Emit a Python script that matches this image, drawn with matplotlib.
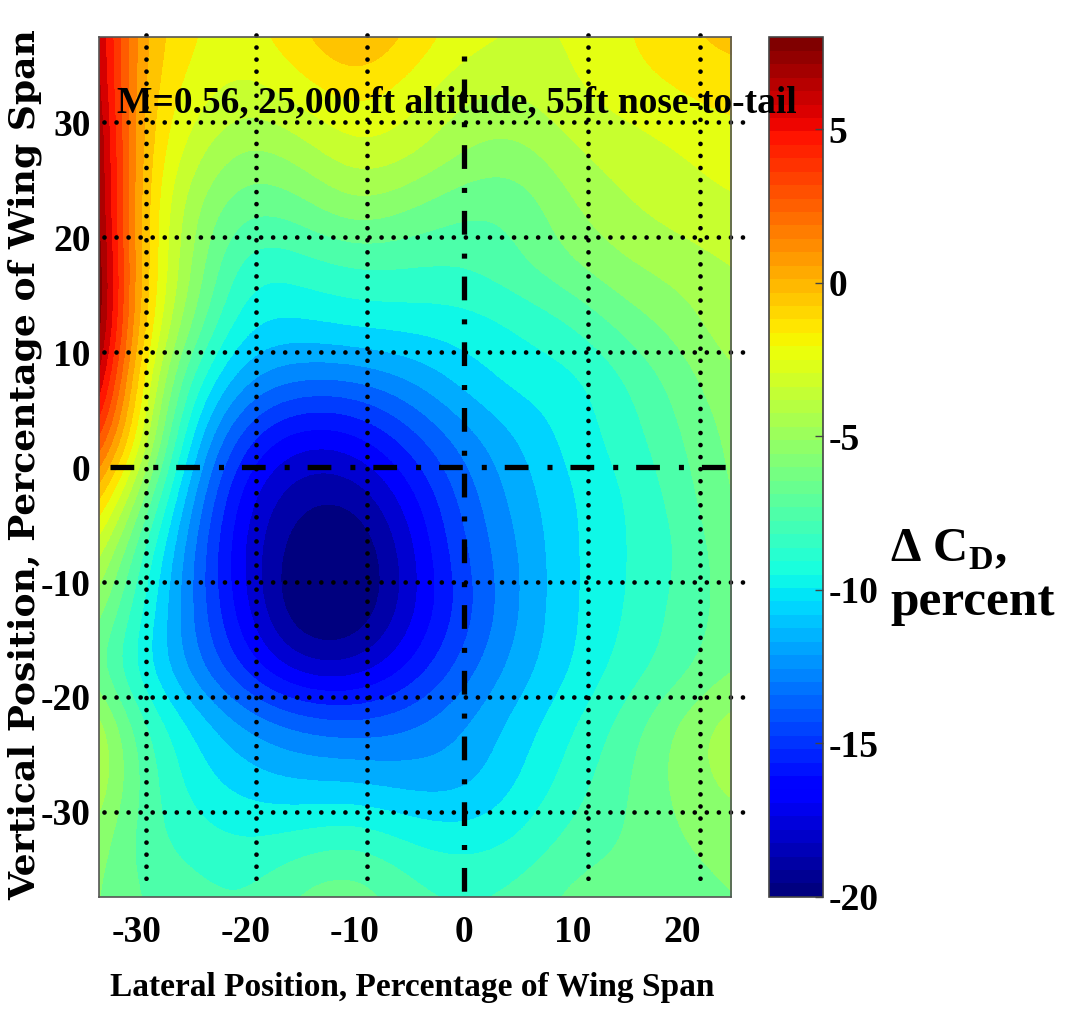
import numpy as np
import matplotlib
matplotlib.use("Agg")
import matplotlib.pyplot as plt
from matplotlib.colors import BoundaryNorm, Normalize
from matplotlib.cm import ScalarMappable

plt.rcParams['font.family'] = ['Liberation Serif', 'DejaVu Serif']
plt.rcParams['font.weight'] = 'bold'
plt.rcParams['axes.unicode_minus'] = False
plt.rcParams['mathtext.fontset'] = 'custom'
plt.rcParams['mathtext.bf'] = 'Liberation Serif:bold'
plt.rcParams['mathtext.rm'] = 'Liberation Serif:bold'

# === Stuetzstellen (Prozent Spannweite) ===
lateral = [-35, -30, -25, -20, -15, -10, -5, 0, 5, 10, 15, 20, 25]
vertical = [37.5, 32.5, 27.5, 22.5, 17.5, 12.5, 7.5, 2.5,
            -2.5, -7.5, -12.5, -17.5, -22.5, -27.5, -32.5, -37.5]

# === Delta C_D in Prozent, Zeile = vertikale Position (oben -> unten) ===
delta_cd = [
    [9.0, 0.0, -2.0, -2.5, -1.0, 0.5, -1.0, -2.5, -3.0, -3.0, -2.0, -1.0, -0.5],
    [10.0, -0.5, -2.5, -3.5, -2.5, -1.5, -2.5, -4.0, -4.0, -3.0, -2.5, -2.0, -1.5],
    [11.0, -0.5, -3.5, -5.5, -4.5, -3.0, -3.5, -5.0, -5.5, -4.0, -3.5, -3.0, -2.5],
    [11.0, -0.5, -5.0, -7.0, -6.5, -5.0, -6.0, -7.0, -7.0, -5.0, -4.0, -3.5, -3.0],
    [12.0, -0.5, -5.0, -9.0, -8.5, -8.0, -8.0, -8.0, -7.0, -6.0, -5.0, -4.5, -4.0],
    [12.0, -0.5, -6.0, -10.0, -10.0, -9.5, -9.5, -9.5, -9.0, -8.0, -6.5, -5.5, -4.0],
    [10.0, -1.5, -8.5, -12.0, -13.0, -13.0, -12.0, -10.5, -9.5, -9.5, -8.0, -6.5, -5.0],
    [6.0, -2.0, -10.5, -15.0, -17.0, -16.5, -14.5, -12.5, -11.0, -9.5, -8.5, -7.0, -5.5],
    [1.5, -5.0, -12.0, -17.0, -19.0, -19.0, -16.5, -13.5, -11.5, -10.0, -9.0, -7.5, -5.5],
    [-2.0, -7.5, -13.0, -17.5, -20.0, -20.5, -17.5, -14.0, -12.0, -10.0, -9.0, -8.0, -6.0],
    [-4.2, -8.5, -13.0, -17.0, -20.5, -20.5, -17.5, -14.5, -12.0, -10.0, -9.0, -7.5, -6.5],
    [-6.0, -9.5, -12.5, -15.5, -18.0, -18.0, -16.0, -13.5, -11.5, -10.0, -8.5, -7.5, -6.0],
    [-2.5, -7.5, -10.0, -12.0, -13.0, -13.5, -13.0, -12.0, -10.5, -9.0, -7.5, -5.5, -4.0],
    [-2.7, -7.0, -9.5, -10.5, -11.0, -11.0, -11.5, -11.5, -10.0, -8.5, -7.0, -5.5, -4.5],
    [-4.6, -7.5, -8.5, -9.0, -8.5, -8.0, -9.0, -9.5, -9.0, -7.5, -7.0, -6.0, -5.5],
    [-5.5, -7.0, -7.5, -8.0, -6.5, -6.0, -7.5, -8.0, -7.5, -6.5, -6.5, -6.5, -6.0],
]

x_ticks = [-30, -20, -10, 0, 10, 20]
y_ticks = [-30, -20, -10, 0, 10, 20, 30]
cbar_ticks = [-20, -15, -10, -5, 0, 5]
grid_x = [-29.2, -19.1, -8.9, 11.4, 21.7]
grid_y = [30, 20, 10, -10, -20, -30]

# === Figur ===
fig = plt.figure(figsize=(10.75, 10.10), dpi=100)
ax = fig.add_axes([0.092, 0.112, 0.588, 0.851])
cax = fig.add_axes([0.715, 0.112, 0.051, 0.851])

levels = np.arange(-20, 9, 1)
cmap = plt.get_cmap("jet")
norm = BoundaryNorm(levels, cmap.N)

dx = lateral[1] - lateral[0]
dy = vertical[0] - vertical[1]
extent = [lateral[0] - dx / 2, lateral[-1] + dx / 2,
          vertical[-1] - dy / 2, vertical[0] + dy / 2]
ax.imshow(np.array(delta_cd), extent=extent, cmap=cmap, norm=norm,
          interpolation="bicubic", interpolation_stage="data",
          aspect="auto", origin="upper")

ax.set_xlim(-33.5, 24.5)
ax.set_ylim(-37.4, 37.4)

# gepunktete Hilfslinien
for gx in grid_x:
    ax.plot([gx, gx], [37.6, -36.7], color="black", lw=3.4,
            dashes=(0.001, 2.55), dash_capstyle="round", clip_on=False)
for gy in grid_y:
    ax.plot([-33.0, 26.0], [gy, gy], color="black", lw=3.4,
            dashes=(0.001, 2.55), dash_capstyle="round", clip_on=False)

# Strich-Punkt-Linien durch den Ursprung
ax.plot([-32.5, 24.5], [0, 0], color="black", lw=3.8,
        dashes=(4.5, 3.6, 0.95, 3.4), dash_capstyle="butt", clip_on=False)
ax.plot([0, 0], [35.8, -37.4], color="black", lw=3.8,
        dashes=(0.95, 3.4, 4.5, 3.6), dash_capstyle="butt", clip_on=False)

# Beschriftung im Plot (ueber der Farbskala gezeichnet)
fig.text(-31.8, 30.9, "M=0.56, 25,000 ft altitude, 55ft nose-to-tail",
         transform=ax.transData, fontsize=27, fontweight="bold",
         va="baseline", ha="left", zorder=10)

ax.set_xticks(x_ticks)
ax.set_yticks(y_ticks)
ax.tick_params(axis="both", length=0, labelsize=27)
ax.tick_params(axis="x", pad=13)
ax.tick_params(axis="y", pad=6)
for sp in ax.spines.values():
    sp.set_color("#555555")
    sp.set_linewidth(1.2)

fig.text(0.383, 0.022, "Lateral Position, Percentage of Wing Span",
         fontsize=24, fontweight="bold", ha="center", va="center")
fig.text(0.023, 0.54, "Vertical Position, Percentage of Wing Span",
         fontsize=26, fontweight="bold", ha="center", va="center", rotation=90,
         family="DejaVu Serif")

# Farbskala (64 Farben wie im Original)
sm = ScalarMappable(norm=Normalize(-20, 8), cmap=plt.get_cmap("jet", 64))
cb = fig.colorbar(sm, cax=cax, ticks=cbar_ticks)
cb.outline.set_edgecolor("#444444")
cb.outline.set_linewidth(1.2)
cax.tick_params(labelsize=27, direction="in", length=6, width=1, color="#444444")

fig.text(0.828, 0.4436, r"Δ C$_\mathbf{D}$,", fontsize=35, fontweight="bold",
         ha="left", va="baseline")
fig.text(0.828, 0.391, "percent", fontsize=37, fontweight="bold",
         ha="left", va="baseline")

fig.savefig("out.png", dpi=100)
